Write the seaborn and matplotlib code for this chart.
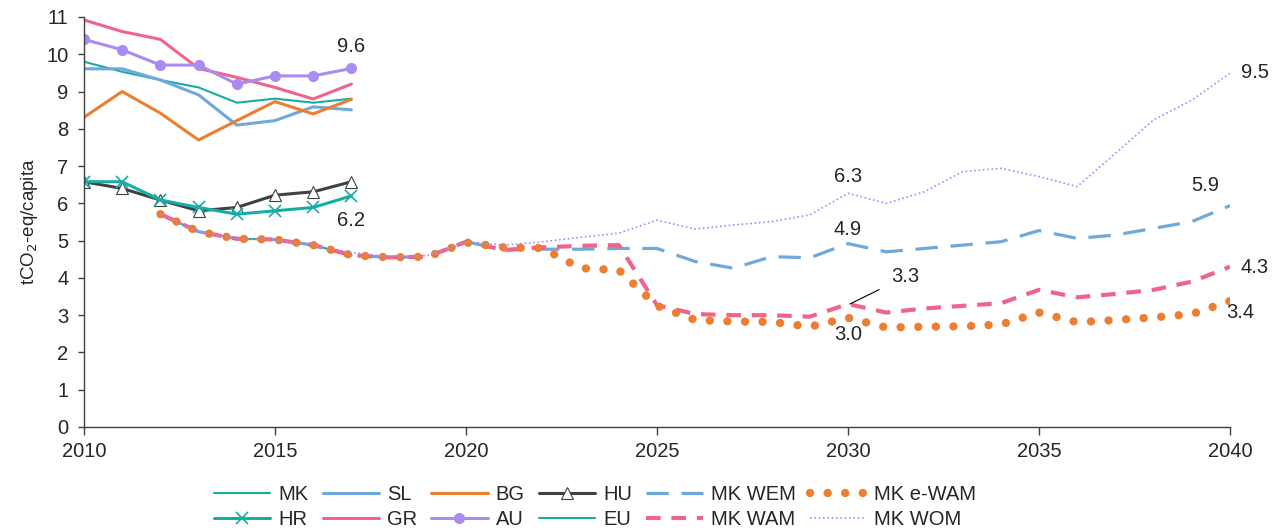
import matplotlib
matplotlib.use("Agg")
import matplotlib.pyplot as plt
import seaborn as sns

# -------------------------
# Data
# -------------------------
hist_years = [2010, 2011, 2012, 2013, 2014, 2015, 2016, 2017]
gr = [10.92, 10.61, 10.40, 9.62, 9.38, 9.11, 8.80, 9.20]
au = [10.40, 10.12, 9.71, 9.71, 9.20, 9.42, 9.42, 9.62]
eu = [9.80, 9.53, 9.31, 9.11, 8.70, 8.81, 8.70, 8.81]
sl = [9.61, 9.61, 9.31, 8.91, 8.10, 8.22, 8.59, 8.51]
bg = [8.31, 9.00, 8.42, 7.70, 8.22, 8.73, 8.40, 8.79]
hu = [6.58, 6.40, 6.09, 5.80, 5.89, 6.22, 6.31, 6.58]
hr = [6.58, 6.58, 6.09, 5.89, 5.71, 5.80, 5.89, 6.20]

mk_years = [2012, 2013, 2014, 2015, 2016, 2017]
mk = [5.71, 5.24, 5.05, 5.03, 4.88, 4.61]

proj_years = list(range(2012, 2041))
mk_wem = [5.71, 5.24, 5.05, 5.03, 4.88, 4.61, 4.55, 4.57, 4.97,
          4.75, 4.77, 4.77, 4.79, 4.79, 4.44, 4.26, 4.57, 4.54, 4.92,
          4.70, 4.79, 4.88, 4.97, 5.27, 5.06, 5.15, 5.33, 5.51, 5.94]
mk_wam = [5.71, 5.24, 5.05, 5.03, 4.88, 4.61, 4.55, 4.57, 4.97,
          4.75, 4.82, 4.86, 4.88, 3.27, 3.03, 3.00, 3.00, 2.96, 3.30,
          3.07, 3.18, 3.25, 3.32, 3.68, 3.48, 3.57, 3.68, 3.90, 4.30]
mk_ewam = [5.71, 5.24, 5.05, 5.03, 4.88, 4.61, 4.55, 4.57, 4.95,
           4.82, 4.80, 4.26, 4.21, 3.25, 2.87, 2.83, 2.82, 2.69, 2.93,
           2.67, 2.69, 2.70, 2.75, 3.07, 2.81, 2.87, 2.94, 3.03, 3.38]
mk_wom = [5.71, 5.24, 5.05, 5.03, 4.88, 4.68, 4.57, 4.60, 4.97,
          4.88, 4.97, 5.09, 5.20, 5.55, 5.31, 5.42, 5.51, 5.69, 6.27,
          6.00, 6.31, 6.85, 6.94, 6.72, 6.45, 7.34, 8.24, 8.77, 9.49]

# -------------------------
# Style
# -------------------------
sns.set_style("ticks")
plt.rcParams['font.family'] = ['Liberation Sans', 'DejaVu Sans']

TEAL = "#17ADA5"
BLUE = "#6FA8DC"
ORANGE = "#ED7D31"
DARK = "#404040"
PINK = "#F0648A"
PURPLE = "#A98CF2"
WOM_PURPLE = "#9F8CFF"

fig = plt.figure(figsize=(12.82, 5.32), dpi=100)
ax = fig.add_axes([84/1282, 1-427/532, (1230-84)/1282, (427-17)/532])

# -------------------------
# Historical countries
# -------------------------
sns.lineplot(x=mk_years, y=mk, color=TEAL, linewidth=1.5, label="MK", ax=ax, zorder=1)
sns.lineplot(x=hist_years, y=eu, color=TEAL, linewidth=1.5, label="EU", ax=ax)
sns.lineplot(x=hist_years, y=sl, color=BLUE, linewidth=2.2, label="SL", ax=ax)
sns.lineplot(x=hist_years, y=bg, color=ORANGE, linewidth=2.2, label="BG", ax=ax)
sns.lineplot(x=hist_years, y=gr, color=PINK, linewidth=2.2, label="GR", ax=ax)
sns.lineplot(x=hist_years, y=au, color=PURPLE, linewidth=2.2, marker="o",
             markersize=8, markeredgewidth=0, label="AU", ax=ax)
sns.lineplot(x=hist_years, y=hu, color=DARK, linewidth=2.2, marker="^",
             markersize=8, markerfacecolor="white", markeredgecolor=DARK,
             markeredgewidth=0.8, label="HU", ax=ax)
sns.lineplot(x=hist_years, y=hr, color=TEAL, linewidth=2.2, marker="x",
             markersize=9, markeredgewidth=1.2, markeredgecolor=TEAL,
             label="HR", ax=ax)

# -------------------------
# MK projections
# -------------------------
sns.lineplot(x=proj_years, y=mk_wem, color=BLUE, linewidth=2.3,
             linestyle=(0, (7, 4)), label="MK WEM", ax=ax)
sns.lineplot(x=proj_years, y=mk_wam, color=PINK, linewidth=3.0,
             linestyle=(0, (3.5, 2.6)), label="MK WAM", ax=ax)
sns.lineplot(x=proj_years, y=mk_ewam, color=ORANGE, linewidth=6.0,
             linestyle=(0, (0.01, 2.1)), dash_capstyle="round",
             label="MK e-WAM", ax=ax)
sns.lineplot(x=proj_years, y=mk_wom, color=WOM_PURPLE, linewidth=1.2,
             linestyle=(0, (1, 1.6)), label="MK WOM", ax=ax)

# -------------------------
# Value labels
# -------------------------
fs = 14.5
ax.text(2017.0, 10.22, "9.6", fontsize=fs, ha="center", va="center")
ax.text(2017.0, 5.55, "6.2", fontsize=fs, ha="center", va="center")
ax.text(2030.0, 6.71, "6.3", fontsize=fs, ha="center", va="center")
ax.text(2030.0, 5.31, "4.9", fontsize=fs, ha="center", va="center")
ax.text(2039.35, 6.47, "5.9", fontsize=fs, ha="center", va="center")
ax.text(2040.65, 9.50, "9.5", fontsize=fs, ha="center", va="center")
ax.text(2040.65, 4.27, "4.3", fontsize=fs, ha="center", va="center")
ax.text(2040.26, 3.06, "3.4", fontsize=fs, ha="center", va="center")
ax.text(2030.0, 2.47, "3.0", fontsize=fs, ha="center", va="center")
ax.annotate("3.3", xy=(2030.05, 3.30), xytext=(2031.5, 4.03), fontsize=fs,
            ha="center", va="center",
            arrowprops=dict(arrowstyle="-", color="black", lw=0.8, shrinkA=7, shrinkB=0))

# -------------------------
# Axes
# -------------------------
ax.set_xlim(2010, 2040)
ax.set_ylim(0, 11)
ax.set_xticks([2010, 2015, 2020, 2025, 2030, 2035, 2040])
ax.set_yticks(range(0, 12))
ax.tick_params(axis="both", labelsize=14.5, color="#404040", width=1)
ax.tick_params(axis="x", length=5.8, pad=5)
ax.tick_params(axis="y", length=4.3, pad=7)
ax.set_xlabel("")
ax.set_ylabel("tCO$_2$-eq/capita", fontsize=13.5, labelpad=4)
for side in ["top", "right"]:
    ax.spines[side].set_visible(False)
for side in ["left", "bottom"]:
    ax.spines[side].set_color("#404040")
    ax.spines[side].set_linewidth(1)

# -------------------------
# Legend (two rows)
# -------------------------
handles, labels = ax.get_legend_handles_labels()
lookup = dict(zip(labels, handles))
order = ["MK", "HR", "SL", "GR", "BG", "AU", "HU", "EU",
         "MK WEM", "MK WAM", "MK e-WAM", "MK WOM"]
if ax.get_legend() is not None:
    ax.get_legend().remove()
fig.legend([lookup[k] for k in order], order, loc="center",
           bbox_to_anchor=(595/1282, 1-507/532), ncol=6, frameon=False,
           fontsize=14.5, handlelength=2.8, columnspacing=0.7,
           handletextpad=0.4, labelspacing=0.3)

fig.savefig("out.png", dpi=100)
